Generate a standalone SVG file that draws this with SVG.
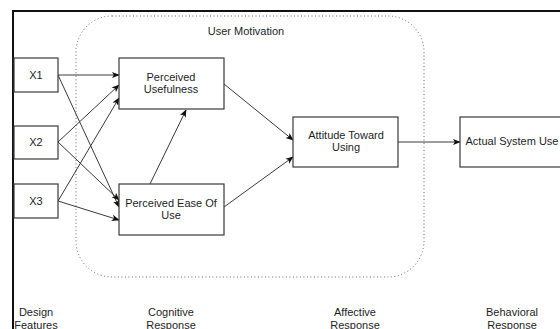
<svg xmlns="http://www.w3.org/2000/svg" width="560" height="329" viewBox="0 0 560 329">
  <defs>
    <style>
      .node rect { fill: #ffffff; stroke: #3a3a3a; stroke-width: 1.2; }
      .lbl { font-family: "Liberation Sans", Arial, sans-serif; font-size: 11px; fill: #1e1e1e; text-anchor: middle; }
      .edge { stroke: #3a3a3a; stroke-width: 1; fill: none; marker-end: url(#arrow); }
    </style>
    <marker id="arrow" viewBox="0 0 10 10" refX="9" refY="5" markerWidth="8" markerHeight="8" markerUnits="userSpaceOnUse" orient="auto">
      <path d="M0,1 L10,5 L0,9 L2.5,5 Z" fill="#111"/>
    </marker>
  </defs>
  <rect width="560" height="329" fill="#ffffff"/>

  <!-- outer frame -->
  <rect x="13" y="11" width="600" height="400" fill="none" stroke="#111" stroke-width="2"/>

  <!-- user motivation group -->
  <g id="user-motivation">
    <rect x="76" y="16" width="348" height="261" rx="36" ry="36" fill="none" stroke="#666" stroke-width="1" stroke-dasharray="1 2.5"/>
    <text class="lbl" x="246" y="35">User Motivation</text>
  </g>

  <!-- connectors -->
  <g id="connectors">
    <line class="edge" x1="58" y1="75" x2="119" y2="75"/>
    <line class="edge" x1="58" y1="142" x2="119" y2="85"/>
    <line class="edge" x1="58" y1="201" x2="119" y2="98"/>
    <line class="edge" x1="58" y1="75" x2="119" y2="207"/>
    <line class="edge" x1="58" y1="142" x2="119" y2="200"/>
    <line class="edge" x1="58" y1="201" x2="119" y2="220"/>
    <line class="edge" x1="150" y1="184" x2="186" y2="110"/>
    <line class="edge" x1="224" y1="84" x2="293" y2="140"/>
    <line class="edge" x1="224" y1="207" x2="293" y2="157"/>
    <line class="edge" x1="398" y1="142" x2="460" y2="142"/>
  </g>

  <!-- design features -->
  <g id="x1" class="node">
    <rect x="14" y="58" width="44" height="34"/>
    <text class="lbl" x="36" y="79">X1</text>
  </g>
  <g id="x2" class="node">
    <rect x="14" y="126" width="44" height="33"/>
    <text class="lbl" x="36" y="146">X2</text>
  </g>
  <g id="x3" class="node">
    <rect x="14" y="184" width="44" height="34"/>
    <text class="lbl" x="36" y="205">X3</text>
  </g>

  <!-- cognitive response -->
  <g id="perceived-usefulness" class="node">
    <rect x="119" y="58" width="105" height="51"/>
    <text class="lbl" x="171" y="81">Perceived</text>
    <text class="lbl" x="171" y="93">Usefulness</text>
  </g>
  <g id="perceived-ease-of-use" class="node">
    <rect x="119" y="184" width="105" height="51"/>
    <text class="lbl" x="171" y="207">Perceived Ease Of</text>
    <text class="lbl" x="171" y="219">Use</text>
  </g>

  <!-- affective response -->
  <g id="attitude-toward-using" class="node">
    <rect x="293" y="117" width="105" height="50"/>
    <text class="lbl" x="346" y="139">Attitude Toward</text>
    <text class="lbl" x="346" y="151">Using</text>
  </g>

  <!-- behavioral response -->
  <g id="actual-system-use" class="node">
    <rect x="460" y="117" width="105" height="50"/>
    <text class="lbl" x="512" y="145">Actual System Use</text>
  </g>

  <!-- stage labels -->
  <g id="stage-labels">
    <text class="lbl" x="36" y="316">Design</text>
    <text class="lbl" x="36" y="329">Features</text>
    <text class="lbl" x="171" y="316">Cognitive</text>
    <text class="lbl" x="171" y="329">Response</text>
    <text class="lbl" x="355" y="316">Affective</text>
    <text class="lbl" x="355" y="329">Response</text>
    <text class="lbl" x="512" y="316">Behavioral</text>
    <text class="lbl" x="512" y="329">Response</text>
  </g>
</svg>
